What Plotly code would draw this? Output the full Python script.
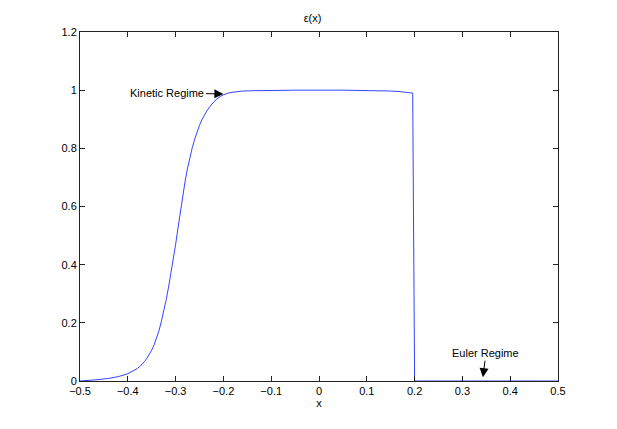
import plotly.graph_objects as go

x_vals = [-0.50, -0.48, -0.46, -0.44, -0.42, -0.40, -0.39, -0.38, -0.375, -0.37,
          -0.365, -0.36, -0.355, -0.35, -0.345, -0.34, -0.335, -0.33, -0.325, -0.32,
          -0.315, -0.31, -0.305, -0.30, -0.295, -0.29, -0.285, -0.28, -0.275, -0.27,
          -0.265, -0.26, -0.255, -0.25, -0.245, -0.24, -0.235, -0.23, -0.225, -0.22,
          -0.215, -0.21, -0.205, -0.20, -0.19, -0.18, -0.17, -0.16, -0.14, -0.12,
          -0.09, -0.05,
          0.05, 0.10, 0.13, 0.15, 0.17, 0.18, 0.19, 0.196, 0.200, 0.30, 0.40, 0.50]
eps_vals = [0.000, 0.002, 0.005, 0.009, 0.015, 0.025, 0.033, 0.043, 0.050, 0.058,
            0.067, 0.078, 0.091, 0.106, 0.124, 0.145, 0.172, 0.203, 0.238, 0.277,
            0.320, 0.366, 0.416, 0.469, 0.526, 0.584, 0.638, 0.688, 0.732, 0.770,
            0.803, 0.832, 0.857, 0.879, 0.898, 0.914, 0.928, 0.940, 0.951, 0.960,
            0.968, 0.975, 0.980, 0.984, 0.990, 0.993, 0.995, 0.997, 0.998, 0.999,
            1.000, 1.000,
            1.000, 0.999, 0.998, 0.997, 0.995, 0.994, 0.992, 0.990, 0.000, 0.000, 0.000, 0.000]

x_ticks = [-0.5, -0.4, -0.3, -0.2, -0.1, 0, 0.1, 0.2, 0.3, 0.4, 0.5]
x_tick_labels = ["\u22120.5", "\u22120.4", "\u22120.3", "\u22120.2", "\u22120.1", "0", "0.1", "0.2", "0.3", "0.4", "0.5"]
y_ticks = [0, 0.2, 0.4, 0.6, 0.8, 1.0, 1.2]
y_tick_labels = ["0", "0.2", "0.4", "0.6", "0.8", "1", "1.2"]

font = dict(family="Liberation Sans, Arial, sans-serif", size=11, color="black")

fig = go.Figure()
fig.add_trace(go.Scatter(x=x_vals, y=eps_vals, mode="lines",
                         line=dict(color="#3344ff", width=1),
                         showlegend=False, hoverinfo="skip"))

axis_common = dict(showline=True, linecolor="#222", linewidth=1, mirror="ticks",
                   ticks="inside", ticklen=5, tickcolor="#222", showgrid=False,
                   zeroline=False, tickfont=font)

fig.update_xaxes(range=[-0.5, 0.5], tickvals=x_ticks, ticktext=x_tick_labels,
                 title=dict(text="x", font=font, standoff=2), **axis_common)
fig.update_yaxes(range=[0, 1.2], tickvals=y_ticks, ticktext=y_tick_labels, **axis_common)

fig.add_annotation(x=-0.2, y=0.987, xref="x", yref="y", text="Kinetic Regime",
                   showarrow=True, ax=-56, ay=-1, arrowhead=2, arrowsize=1.8,
                   arrowwidth=1, arrowcolor="black", font=font)
fig.add_annotation(x=0.343, y=0.013, xref="x", yref="y", text="Euler Regime",
                   showarrow=True, ax=3, ay=-24, arrowhead=2, arrowsize=1.8,
                   arrowwidth=1, arrowcolor="black", font=font)

fig.update_layout(
    width=609, height=421,
    margin=dict(l=72, r=59, t=24, b=48),
    paper_bgcolor="white", plot_bgcolor="white",
    title=dict(text="\u03b5(x)", x=0.5, xanchor="center", y=1 - 10 / 421, yanchor="middle", font=font),
    font=font,
)

fig.write_html("out.html")
